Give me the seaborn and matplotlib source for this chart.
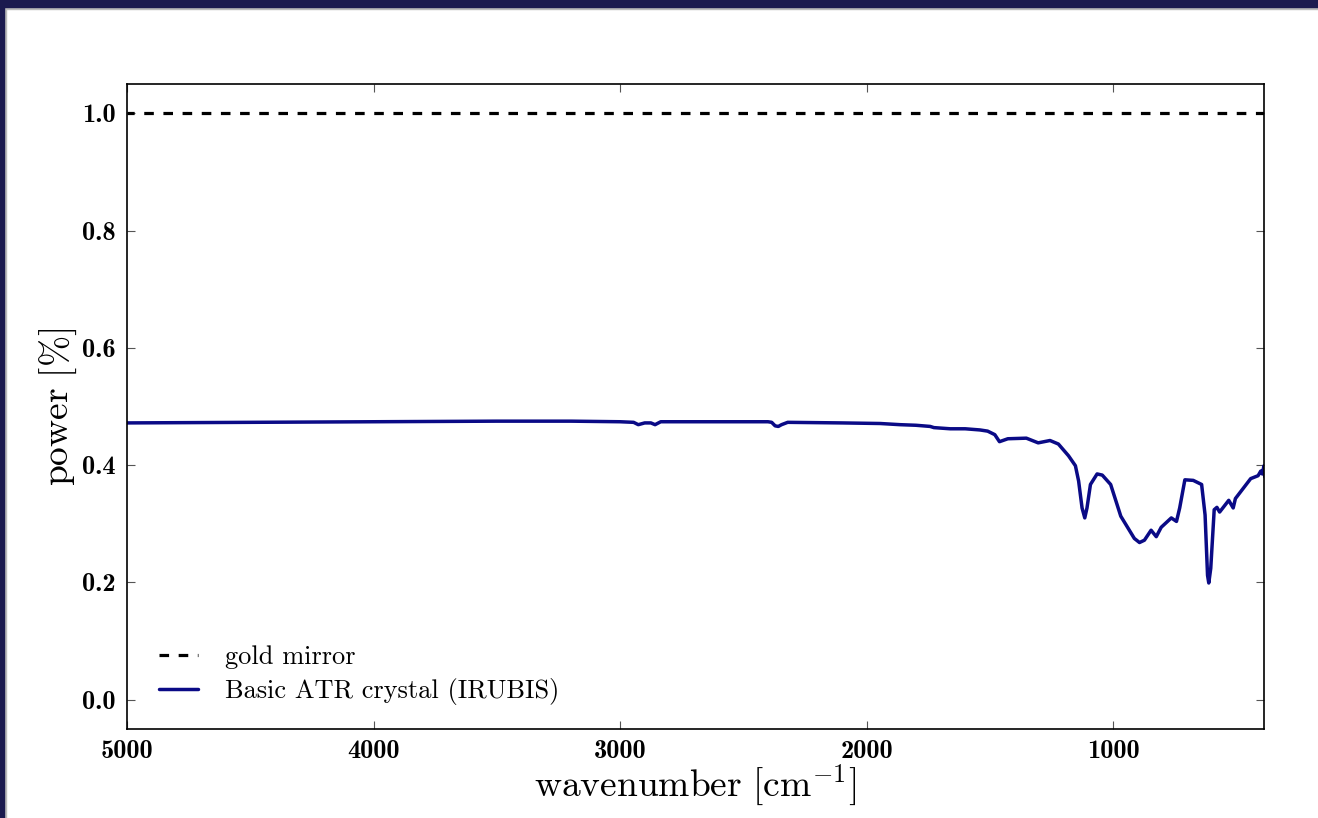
import numpy as np
import pandas as pd
import matplotlib
matplotlib.use("Agg")
import matplotlib.pyplot as plt
from matplotlib.patches import Rectangle
import seaborn as sns

# spectrum (wavenumber in cm^-1, power as fraction)
wavenumber = [5000, 4500, 4000, 3500, 3200, 3000, 2945, 2926, 2900, 2875, 2858, 2835,
              2600, 2400, 2385, 2371, 2358, 2345, 2320, 2100, 1945, 1864, 1800,
              1742, 1727, 1661, 1600, 1540, 1509, 1480, 1461, 1427, 1352, 1304,
              1256, 1222, 1181, 1153, 1140, 1126, 1115, 1106, 1092, 1065, 1044,
              1010, 969, 914, 893, 873, 846, 825, 805, 764, 743, 730, 709, 675,
              641, 627, 617, 612, 604, 590, 579, 568, 531, 513, 504, 442, 412,
              401, 395, 388, 385]
atr_power = [0.472, 0.473, 0.474, 0.475, 0.475, 0.474, 0.473, 0.469, 0.472, 0.472, 0.469, 0.474,
             0.474, 0.474, 0.473, 0.467, 0.466, 0.469, 0.473, 0.472, 0.471, 0.469, 0.468,
             0.466, 0.464, 0.462, 0.462, 0.460, 0.458, 0.452, 0.440, 0.445, 0.446, 0.438,
             0.442, 0.436, 0.416, 0.399, 0.373, 0.327, 0.310, 0.327, 0.367, 0.385, 0.383,
             0.367, 0.313, 0.275, 0.268, 0.272, 0.289, 0.278, 0.294, 0.310, 0.304, 0.327, 0.375, 0.374,
             0.367, 0.315, 0.212, 0.199, 0.224, 0.324, 0.328, 0.320, 0.340, 0.327, 0.343, 0.377, 0.382,
             0.390, 0.385, 0.399, 0.380]
mirror_wavenumber = [5000, 385]
mirror_power = [1.0, 1.0]

yticks = [0.0, 0.2, 0.4, 0.6, 0.8, 1.0]
xticks = [5000, 4000, 3000, 2000, 1000]

sns.set_style("ticks")
plt.rcParams["mathtext.fontset"] = "cm"
plt.rcParams["axes.unicode_minus"] = False
plt.rcParams["xtick.direction"] = "in"
plt.rcParams["ytick.direction"] = "in"
plt.rcParams["xtick.top"] = True
plt.rcParams["ytick.right"] = True
plt.rcParams["text.color"] = "black"
plt.rcParams["axes.labelcolor"] = "black"

fig = plt.figure(figsize=(13.18, 8.18), dpi=100)
ax = fig.add_axes([127 / 1318, 1 - 729 / 818, 1137 / 1318, 645 / 818])

df_mirror = pd.DataFrame({"wavenumber": mirror_wavenumber, "power": mirror_power})
df_atr = pd.DataFrame({"wavenumber": wavenumber, "power": atr_power})

sns.lineplot(data=df_mirror, x="wavenumber", y="power", color="black", lw=2.3,
             linestyle=(0, (3, 3)), label="gold mirror", ax=ax, estimator=None)
sns.lineplot(data=df_atr, x="wavenumber", y="power", color="#0a0a86", lw=2.5,
             label="Basic ATR crystal (IRUBIS)", ax=ax, estimator=None, sort=False)

ax.set_xlim(5000, 388)
ax.set_ylim(-0.05, 1.05)
ax.set_xticks(xticks)
ax.set_yticks(yticks)
ax.set_xticklabels([str(t) for t in xticks])
ax.set_yticklabels([f"{t:.1f}" for t in yticks])
for lab in ax.get_xticklabels() + ax.get_yticklabels():
    lab.set_fontfamily("cmb10")
    lab.set_fontsize(19)
ax.tick_params(length=6, width=0.8, color="#555555", labelcolor="black", pad=8)

ax.set_xlabel(r"$\mathrm{wavenumber\ [cm^{-1}]}$", fontsize=27, labelpad=0)
ax.set_ylabel(r"$\mathrm{power\ [\%]}$", fontsize=27, labelpad=2)

for side in ax.spines.values():
    side.set_linewidth(1.2)
    side.set_color("black")

ax.legend(loc="lower left", frameon=False, prop={"family": "cmr10", "size": 19},
          handlelength=1.5, handletextpad=1.0, labelspacing=0.35,
          bbox_to_anchor=(0.007, 0.0))

# slide frame around the screenshot
navy = "#1b1a4f"
fig.add_artist(Rectangle((0, 1 - 7 / 818), 1, 7 / 818, transform=fig.transFigure,
                         color=navy, zorder=10))
fig.add_artist(Rectangle((0, 1 - 9 / 818), 1, 2 / 818, transform=fig.transFigure,
                         color="#bbbbbb", zorder=9))
fig.add_artist(Rectangle((0, 0), 4 / 1318, 1, transform=fig.transFigure,
                         color=navy, zorder=10))
fig.add_artist(Rectangle((4 / 1318, 0), 2 / 1318, 1, transform=fig.transFigure,
                         color="#bbbbbb", zorder=9))

fig.savefig("out.png", dpi=100)
